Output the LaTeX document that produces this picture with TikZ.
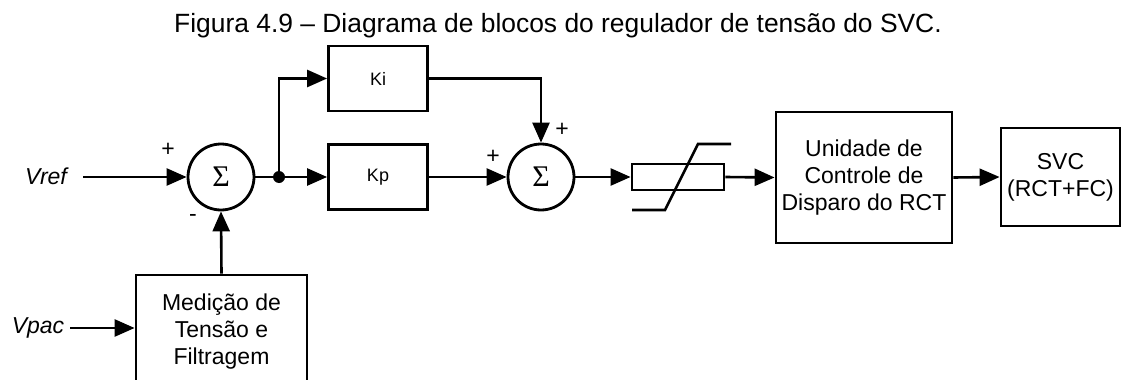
\documentclass[tikz,border=0pt]{standalone}
\usepackage{fontspec}
\setmainfont{Liberation Sans}
\newfontfamily\sigfont{Liberation Serif}
\usetikzlibrary{arrows.meta}
\begin{document}
\begin{tikzpicture}[x=1pt,y=-1pt,
  line width=2.6pt,
  blk/.style={draw, line width=2.8pt, rectangle, inner sep=0pt, align=center, font=\fontsize{23}{27}\selectfont},
  kblk/.style={blk, minimum width=99pt, minimum height=65pt, font=\fontsize{18}{18}\selectfont},
  sumnode/.style={draw, line width=2.8pt, circle, minimum size=66pt, inner sep=0pt, font=\sigfont\fontsize{30}{30}\selectfont},
  arr/.style={-{Triangle[length=20pt,width=17pt]}},
  sign/.style={font=\fontsize{23}{23}\selectfont, inner sep=0pt},
  lbl/.style={font=\itshape\fontsize{23}{23}\selectfont, inner sep=0pt},
  dot/.style={circle, fill, inner sep=0pt, minimum size=12pt}
]
\useasboundingbox (0,0) rectangle (1122,380);
\node[font=\fontsize{26.4}{26.4}\selectfont, anchor=base] (title) at (558,32) {Figura 4.9 – Diagrama de blocos do regulador de tensão do SVC.};
\node[sumnode] (s1) at (221,177) {Σ};
\node[kblk] (ki) at (378,78.5) {Ki};
\node[kblk] (kp) at (378,177) {Kp};
\node[sumnode] (s2) at (541,177) {Σ};
\node[draw, line width=2.8pt, inner sep=0pt, minimum width=92pt, minimum height=26pt] (sat) at (678,177) {};
\node[blk, minimum width=176pt, minimum height=131pt] (ucd) at (864,177.5) {Unidade de\\Controle de\\Disparo do RCT};
\node[blk, minimum width=119pt, minimum height=98pt] (svc) at (1060.5,177) {SVC\\(RCT+FC)};
\node[blk, minimum width=171pt, minimum height=113pt] (med) at (221.5,331.5) {Medição de\\Tensão e\\Filtragem};
\node[lbl] (vref) at (46,176) {Vref};
\node[lbl] (vpac) at (38,328) {Vpac};
\node[dot] (j) at (279,177) {};
\coordinate (vrefs) at (83,177);
\coordinate (vpacs) at (70,328);
\node[sign] (p1) at (168,150) {+};
\node[sign] (m1) at (193,218) {-};
\node[sign] (p2) at (493,157) {+};
\node[sign] (p3) at (562,130) {+};
\draw[arr] (vrefs) -- (s1.west);
\draw[arr] (vpacs) -- (vpacs -| med.west);
\draw[arr] (med.north) -- (s1.south);
\draw (s1.east) -- (j.center);
\draw[arr] (j.center) -- (kp.west);
\draw[arr] (j.center) |- (ki.west);
\draw[arr] (kp.east) -- (s2.west);
\draw[arr] (ki.east) -| (s2.north);
\draw[arr] (s2.east) -- (sat.west);
\draw[arr] (sat.east) -- (ucd.west);
\draw[arr] (ucd.east) -- (svc.west);
\draw (632,210) -- (665,210) -- (698,144) -- (731,144);
\end{tikzpicture}
\end{document}
